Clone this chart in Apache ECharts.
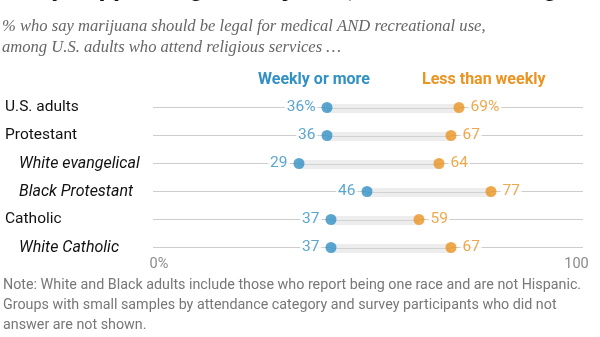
<!DOCTYPE html>
<html>
<head>
<meta charset="utf-8">
<script src="https://cdn.jsdelivr.net/npm/echarts@6/dist/echarts.min.js"></script>
<style>
  html, body { margin: 0; padding: 0; background: #fff; }
  #chart { width: 600px; height: 337px; }
</style>
</head>
<body>
<div id="chart"></div>
<script>
// Groups shown as rows, top to bottom
const groups = ['U.S. adults', 'Protestant', 'White evangelical', 'Black Protestant', 'Catholic', 'White Catholic'];
// Subgroups are indented and set in italics
const isSubgroup = [false, false, true, true, false, true];
// Share (%) saying marijuana should be legal for medical AND recreational use
const weekly = [36, 36, 29, 46, 37, 37];
const lessThanWeekly = [69, 67, 64, 77, 59, 67];
const seriesNames = ['Weekly or more', 'Less than weekly'];
const tickLabels = ['0%', '100'];

const titleText = 'Many support legal marijuana, but fewer among weekly attenders';
const subtitleLines = [
  '% who say marijuana should be legal for medical AND recreational use,',
  'among U.S. adults who attend religious services …'
];
const noteLines = [
  'Note: White and Black adults include those who report being one race and are not Hispanic.',
  'Groups with small samples by attendance category and survey participants who did not',
  'answer are not shown.'
];

const BLUE = '#3190c4';
const ORANGE = '#ea9422';
const SANS = 'Roboto, "Liberation Sans", Arial, sans-serif';
const X_MIN = -7.5, X_MAX = 100;

const chart = echarts.init(document.getElementById('chart'), null, { renderer: 'canvas' });

const valueLabel = (color, side) => ({
  show: true,
  position: side,
  distance: 4,
  color: color,
  fontFamily: SANS,
  fontSize: 15.5,
  backgroundColor: '#fff',
  padding: [1, 2],
  formatter: p => p.dataIndex === 0 ? p.value[0] + '%' : String(p.value[0])
});

const option = {
  animation: false,
  backgroundColor: '#fff',
  grid: { left: 153, right: 17, top: 107.5, bottom: 89.5, containLabel: false },
  xAxis: {
    type: 'value',
    min: X_MIN,
    max: X_MAX,
    splitLine: { show: false },
    axisLine: { show: false },
    axisTick: { show: false },
    axisLabel: {
      customValues: [X_MIN, X_MAX],
      margin: 9,
      color: '#8a8a8a',
      fontFamily: SANS,
      fontSize: 14.5,
      formatter: v => v === X_MAX ? '{r|' + tickLabels[1] + '}' : '{l|' + tickLabels[0] + '}',
      rich: {
        l: { padding: [0, 0, 0, 12], color: '#8a8a8a', fontFamily: SANS, fontSize: 14.5 },
        r: { padding: [0, 13, 0, 0], color: '#8a8a8a', fontFamily: SANS, fontSize: 14.5 }
      }
    }
  },
  yAxis: {
    type: 'category',
    data: groups,
    inverse: true,
    boundaryGap: false,
    axisLine: { show: false },
    axisTick: { show: false },
    splitLine: { show: true, lineStyle: { color: '#cdcdcd', width: 1 } },
    axisLabel: {
      align: 'left',
      margin: 148,
      formatter: (v, i) => isSubgroup[i] ? '{s|' + v + '}' : '{m|' + v + '}',
      rich: {
        m: { color: '#111', fontFamily: SANS, fontSize: 15.5 },
        s: { color: '#111', fontFamily: SANS, fontSize: 16, fontStyle: 'italic', padding: [0, 0, 0, 14] }
      }
    }
  },
  series: [
    {
      // light connector band between the two attendance groups
      type: 'custom',
      z: 1,
      silent: true,
      data: groups.map((g, i) => [weekly[i], lessThanWeekly[i], i]),
      encode: { x: [0, 1], y: 2 },
      renderItem: (params, api) => {
        const row = api.value(2);
        const a = api.coord([api.value(0), row]);
        const b = api.coord([api.value(1), row]);
        const y = Math.round(a[1]) + 0.5;
        return {
          type: 'group',
          children: [
            { type: 'rect', shape: { x: a[0], y: y - 4.5, width: b[0] - a[0], height: 9 }, style: { fill: '#ededed' } },
            { type: 'line', shape: { x1: a[0], y1: y, x2: b[0], y2: y }, style: { stroke: '#d2d2d2', lineWidth: 1 } }
          ]
        };
      }
    },
    {
      name: seriesNames[0],
      type: 'scatter',
      z: 3,
      symbolSize: 11,
      itemStyle: { color: BLUE },
      data: groups.map((g, i) => [weekly[i], g]),
      label: valueLabel(BLUE, 'left')
    },
    {
      name: seriesNames[1],
      type: 'scatter',
      z: 3,
      symbolSize: 11,
      itemStyle: { color: ORANGE },
      data: groups.map((g, i) => [lessThanWeekly[i], g]),
      label: valueLabel(ORANGE, 'right')
    }
  ],
  graphic: [
    {
      type: 'text', left: 0, top: -24, silent: true,
      style: { text: titleText, fill: '#111', font: 'bold 26px ' + SANS }
    },
    {
      type: 'text', left: 2, top: 16, silent: true,
      style: {
        text: subtitleLines.join('\n'), fill: '#666', lineHeight: 21,
        font: 'italic 16.6px "Liberation Serif", "DejaVu Serif", serif'
      }
    },
    {
      type: 'text', left: 258, top: 72, silent: true,
      style: { text: seriesNames[0], fill: BLUE, font: 'bold 16px ' + SANS }
    },
    {
      type: 'text', left: 422, top: 72, silent: true,
      style: { text: seriesNames[1], fill: ORANGE, font: 'bold 16px ' + SANS }
    },
    {
      type: 'text', left: 3, top: 275, silent: true,
      style: { text: noteLines.join('\n'), fill: '#777', lineHeight: 20, font: '14.3px ' + SANS }
    }
  ]
};

chart.setOption(option);
</script>
</body>
</html>
